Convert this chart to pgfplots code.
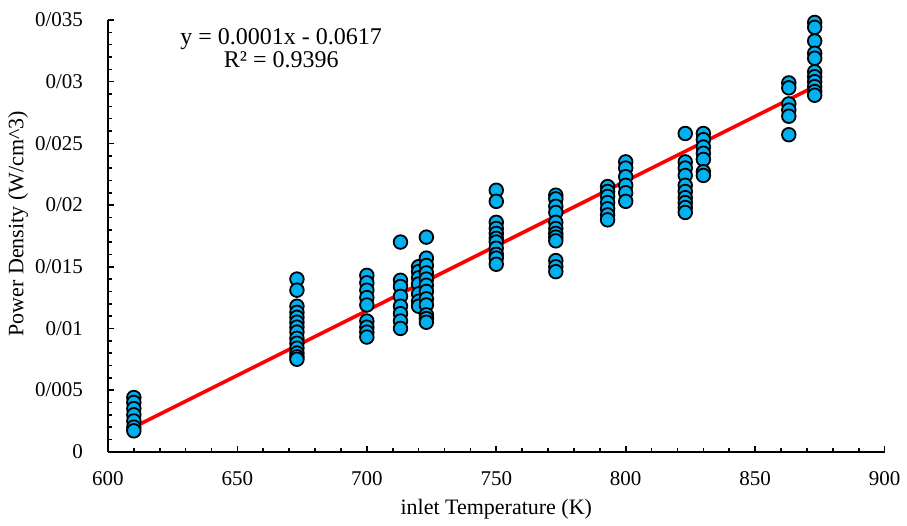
\documentclass[border=0pt]{standalone}
\usepackage{fontspec}
\setmainfont{Liberation Serif}
\usepackage{pgfplots}
\pgfplotsset{compat=1.18}
\usepackage{pgfplotstable}
\definecolor{ptblue}{HTML}{00B0F0}

\pgfplotstableread{
x y
610 0.0044
610 0.0040
610 0.0035
610 0.0030
610 0.0025
610 0.0020
610 0.0017
673 0.0140
673 0.0131
673 0.0118
673 0.0113
673 0.0109
673 0.0105
673 0.0101
673 0.0097
673 0.0092
673 0.0088
673 0.0084
673 0.0080
673 0.0077
673 0.0075
700 0.0143
700 0.0137
700 0.0131
700 0.0125
700 0.0119
700 0.0106
700 0.0101
700 0.0097
700 0.0093
713 0.0170
713 0.0139
713 0.0134
713 0.0126
713 0.0118
713 0.0112
713 0.0106
713 0.0100
720 0.0150
720 0.0146
720 0.0141
720 0.0136
720 0.0128
720 0.0122
720 0.0118
723 0.0174
723 0.0157
723 0.0151
723 0.0145
723 0.0140
723 0.0135
723 0.0130
723 0.0124
723 0.0119
723 0.0111
723 0.0108
723 0.0105
750 0.0212
750 0.0203
750 0.0186
750 0.0181
750 0.0177
750 0.0173
750 0.0170
750 0.0165
750 0.0160
750 0.0157
750 0.0152
773 0.0208
773 0.0205
773 0.0199
773 0.0194
773 0.0186
773 0.0181
773 0.0177
773 0.0174
773 0.0171
773 0.0155
773 0.0150
773 0.0146
793 0.0215
793 0.0211
793 0.0207
793 0.0202
793 0.0197
793 0.0192
793 0.0188
800 0.0235
800 0.0230
800 0.0223
800 0.0216
800 0.0210
800 0.0203
823 0.0258
823 0.0235
823 0.0230
823 0.0224
823 0.0216
823 0.0211
823 0.0206
823 0.0202
823 0.0198
823 0.0194
830 0.0258
830 0.0253
830 0.0247
830 0.0242
830 0.0237
830 0.0227
830 0.0224
863 0.0299
863 0.0295
863 0.0282
863 0.0277
863 0.0272
863 0.0257
873 0.0348
873 0.0344
873 0.0333
873 0.0323
873 0.0319
873 0.0308
873 0.0304
873 0.0300
873 0.0296
873 0.0292
873 0.0289
}\measured

\begin{document}
\begin{tikzpicture}
\begin{axis}[
    scale only axis,
    width=388.5pt, height=216pt,
    xmin=600, xmax=900,
    ymin=0, ymax=0.035,
    axis lines*=left,
    axis line style={line width=1pt},
    xtick={600,650,...,900},
    ytick={0,0.005,...,0.035},
    yticklabels={0,0/005,0/01,0/015,0/02,0/025,0/03,0/035},
    scaled y ticks=false,
    minor x tick num=4,
    minor y tick num=4,
    tick align=inside,
    major tick length=3pt,
    minor tick length=2pt,
    every tick/.style={black, line width=0.8pt},
    /pgf/number format/assume math mode=true,
    tick label style={font=\fontsize{10.5}{12.5}\selectfont},
    yticklabel style={xshift=-9pt},
    xticklabel style={yshift=-6.5pt},
    xlabel={inlet Temperature (K)},
    ylabel={Power Density (W/cm\^{}3)},
    label style={font=\fontsize{11}{13}\selectfont},
    xlabel style={at={(axis description cs:0.5,0)}, anchor=center, yshift=-28.5pt},
    ylabel style={at={(axis description cs:-0.1158,0.528)}, anchor=center},
    clip=false,
]
\path (rel axis cs:-0.139,-0.1667) rectangle (rel axis cs:1.0283,1.0463);
\addplot[only marks, mark=*, mark size=3.4pt,
    mark options={fill=ptblue, draw=black, line width=0.9pt}]
    table[x=x, y=y] {\measured};
\addplot[red, line width=1.8pt] coordinates {(610,0.0020) (873,0.0296)};
\node[align=center, font=\fontsize{12}{11.5}\selectfont] at (rel axis cs:0.223,0.934)
    {y = 0.0001x - 0.0617\\R² = 0.9396};
\end{axis}
\end{tikzpicture}
\end{document}
